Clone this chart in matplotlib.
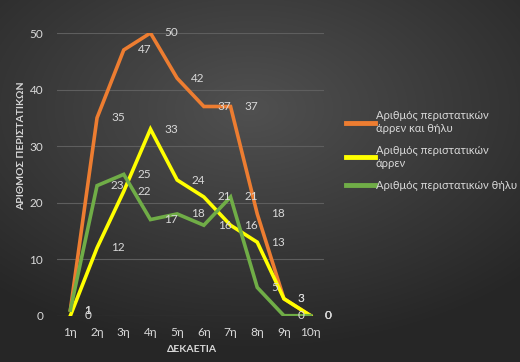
import numpy as np
import matplotlib
matplotlib.use("Agg")
import matplotlib.pyplot as plt

plt.rcParams['font.family'] = ['Lato', 'DejaVu Sans']

decades = ['1η', '2η', '3η', '4η', '5η', '6η', '7η', '8η', '9η', '10η']
total = [1, 35, 47, 50, 42, 37, 37, 18, 3, 0]
male = [0, 12, 22, 33, 24, 21, 16, 13, 3, 0]
female = [1, 23, 25, 17, 18, 16, 21, 5, 0, 0]

series = [
    (total, 'Αριθμός περιστατικών\nάρρεν και θήλυ', '#ED7D31'),
    (male, 'Αριθμός περιστατικών\nάρρεν', '#FFFF00'),
    (female, 'Αριθμός περιστατικών θήλυ', '#70AD47'),
]
txt = '#d9d9d9'

fig = plt.figure(figsize=(5.2, 3.62), dpi=100)

# radial dark background
bg = fig.add_axes([0, 0, 1, 1])
yy, xx = np.mgrid[0:1:362j, 0:1:520j]
r = np.sqrt(((xx - 0.48) / 1.0) ** 2 + ((yy - 0.3) / 0.9) ** 2)
bg.imshow(r, cmap=matplotlib.colors.LinearSegmentedColormap.from_list('g', ['#505050', '#262626']),
          vmin=0, vmax=0.75, aspect='auto', extent=[0, 1, 0, 1], origin='upper')
bg.set_axis_off()

ax = fig.add_axes([57 / 520, 1 - 315.7 / 362, 267 / 520, (315.7 - 33) / 362])
ax.patch.set_alpha(0)
x = np.arange(len(decades))
for vals, lab, col in series:
    ax.plot(x, vals, color=col, lw=2.6, label=lab, solid_joinstyle='miter')
for vals, lab, col in series:
    for xi, v in zip(x, vals):
        ax.annotate(str(v), (xi, v), xytext=(10, 0), textcoords='offset points',
                    color=txt, fontsize=8.5, va='center', ha='left')

ax.set_xlim(-0.5, 9.5)
ax.set_ylim(0, 50)
ax.set_yticks(range(0, 51, 10))
ax.set_xticks(x)
ax.set_xticklabels(decades)
ax.tick_params(colors=txt, labelsize=8.5, length=0)
ax.tick_params(axis='y', pad=10)
ax.tick_params(axis='x', pad=8)
ax.grid(axis='y', color='#5e5e5e', lw=0.8)
ax.set_axisbelow(True)
for s in ax.spines.values():
    s.set_visible(False)

fig.text(192 / 520, 1 - 349 / 362, 'ΔΕΚΑΕΤΙΑ', color=txt, fontsize=7.5,
         fontweight='bold', ha='center', va='center')
fig.text(22 / 520, 1 - 146 / 362, 'ΑΡΙΘΜΟΣ ΠΕΡΙΣΤΑΤΙΚΩΝ', color=txt, fontsize=7.5,
         fontweight='bold', ha='center', va='center', rotation=90)

leg = fig.legend(loc='upper left', bbox_to_anchor=(336 / 520, 1 - 100 / 362),
                 frameon=False, fontsize=8, labelcolor=txt, handlelength=2.6,
                 handletextpad=0.1, labelspacing=1.0)
for h in leg.get_lines():
    h.set_linewidth(3.5)

fig.savefig('out.png', dpi=100)
